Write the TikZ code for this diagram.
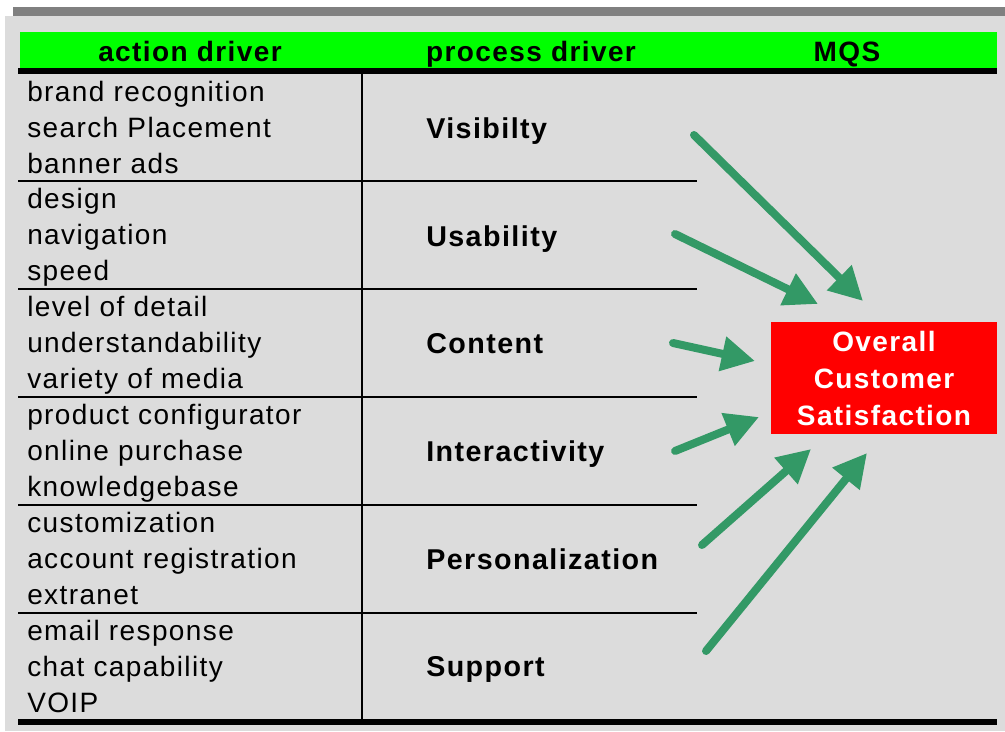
\documentclass[tikz,border=0pt]{standalone}
\usepackage{fontspec}
\setmainfont[LetterSpace=5]{Liberation Sans}
\usetikzlibrary{arrows.meta}
\definecolor{hdgreen}{RGB}{0,255,0}
\definecolor{argreen}{RGB}{51,153,102}
\definecolor{bggray}{RGB}{220,220,220}
\definecolor{bargray}{RGB}{128,128,128}
\tikzstyle{act}=[anchor=base west,inner sep=0pt,align=left,font=\fontsize{21}{27}\selectfont]
\tikzstyle{proc}=[anchor=base west,inner sep=0pt,font=\fontsize{21.5}{27}\selectfont\bfseries]
\tikzstyle{hd}=[anchor=base,inner sep=0pt,font=\fontsize{21}{27}\selectfont\bfseries]
\tikzstyle{thin}=[line width=1.5pt]
\tikzstyle{thick}=[line width=4.5pt]
\tikzstyle{mqsarrow}=[-{Triangle[length=25pt,width=25pt]},line width=6pt,line cap=round,draw=argreen]

\begin{document}
\begin{tikzpicture}[x=0.75pt,y=-0.75pt]
            \useasboundingbox (0,0) rectangle (1005,731);
            % background and header band
            \fill[bggray] (5,16) rectangle (1005,731);
            \fill[bargray] (13,7) rectangle (1005,16);
            \fill[hdgreen] (20,32) rectangle (997,70);
            \node[hd] (hact) at (190,62) {action driver};
            \node[hd] (hproc) at (531,62) {process driver};
            \node[hd] (hmqs) at (847,62) {MQS};
            % table rules
            \draw[thick] (18,71.5) -- (997,71.5);
            \draw[thick] (18,722) -- (997,722);
            \draw[thin] (362,74) -- (362,719);
            \foreach \y in {181,289,397,505,613}
                \draw[thin] (18,\y) -- (697,\y);
            % action drivers (base = last line)
            \node[act] (a1) at (27,173) {brand recognition\\search Placement\\banner ads};
            \node[act] (a2) at (27,280) {design\\navigation\\speed};
            \node[act] (a3) at (27,388) {level of detail\\understandability\\variety of media};
            \node[act] (a4) at (27,496) {product configurator\\online purchase\\knowledgebase};
            \node[act] (a5) at (27,604) {customization\\account registration\\extranet};
            \node[act] (a6) at (27,712) {email response\\chat capability\\VOIP};
            % process drivers
            \node[proc] (p1) at (426,138) {Visibilty};
            \node[proc] (p2) at (426,246) {Usability};
            \node[proc] (p3) at (426,353) {Content};
            \node[proc] (p4) at (426,461) {Interactivity};
            \node[proc] (p5) at (426,569) {Personalization};
            \node[proc] (p6) at (426,676) {Support};
            % MQS
            \node[fill=red,text=white,inner sep=0pt,minimum width=169.5pt,minimum height=84pt,
                align=center,font=\fontsize{21}{27.75}\selectfont\bfseries] (ocs) at (884,378)
                {Overall\\Customer\\Satisfaction};
            \coordinate (s1) at (694,135);
            \coordinate (t1) at (863,301);
            \coordinate (s2) at (675,234);
            \coordinate (t2) at (818,304);
            \coordinate (s3) at (673,343);
            \coordinate (t3) at (755,361);
            \coordinate (s4) at (675,451);
            \coordinate (t4) at (759,417);
            \coordinate (s5) at (702,545);
            \coordinate (t5) at (811,449);
            \coordinate (s6) at (706,651);
            \coordinate (t6) at (867,453);
            \foreach \i in {1,...,6}
                \draw[mqsarrow] (s\i) -- (t\i);
        \end{tikzpicture}
\end{document}
